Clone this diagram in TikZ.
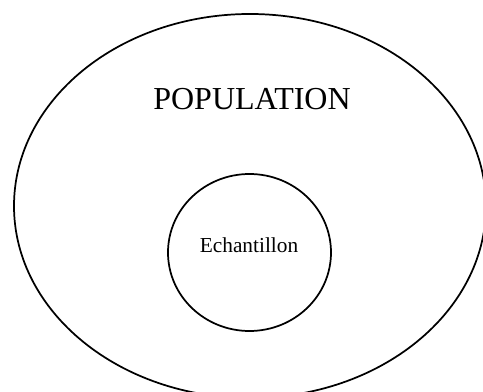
\documentclass[tikz,border=0pt]{standalone}
\usepackage{fontspec}
\setmainfont{Liberation Serif}
\usepackage{tikz}

\begin{document}
\begin{tikzpicture}[x=0.75pt,y=-0.75pt,line width=1.3pt]
		\useasboundingbox (0,0) rectangle (483,392);

		%% Population
		\draw (250,206) ellipse [x radius=236, y radius=192];
		\node[font=\fontsize{24}{28}\selectfont] (population) at (252,99.5) {POPULATION};

		% Echantillon inside
		\draw (249.5,252.5) ellipse [x radius=81.5, y radius=78.5];
		\node[font=\fontsize{16}{19}\selectfont] (echantillon) at (249,245.5) {Echantillon};
	\end{tikzpicture}
\end{document}
